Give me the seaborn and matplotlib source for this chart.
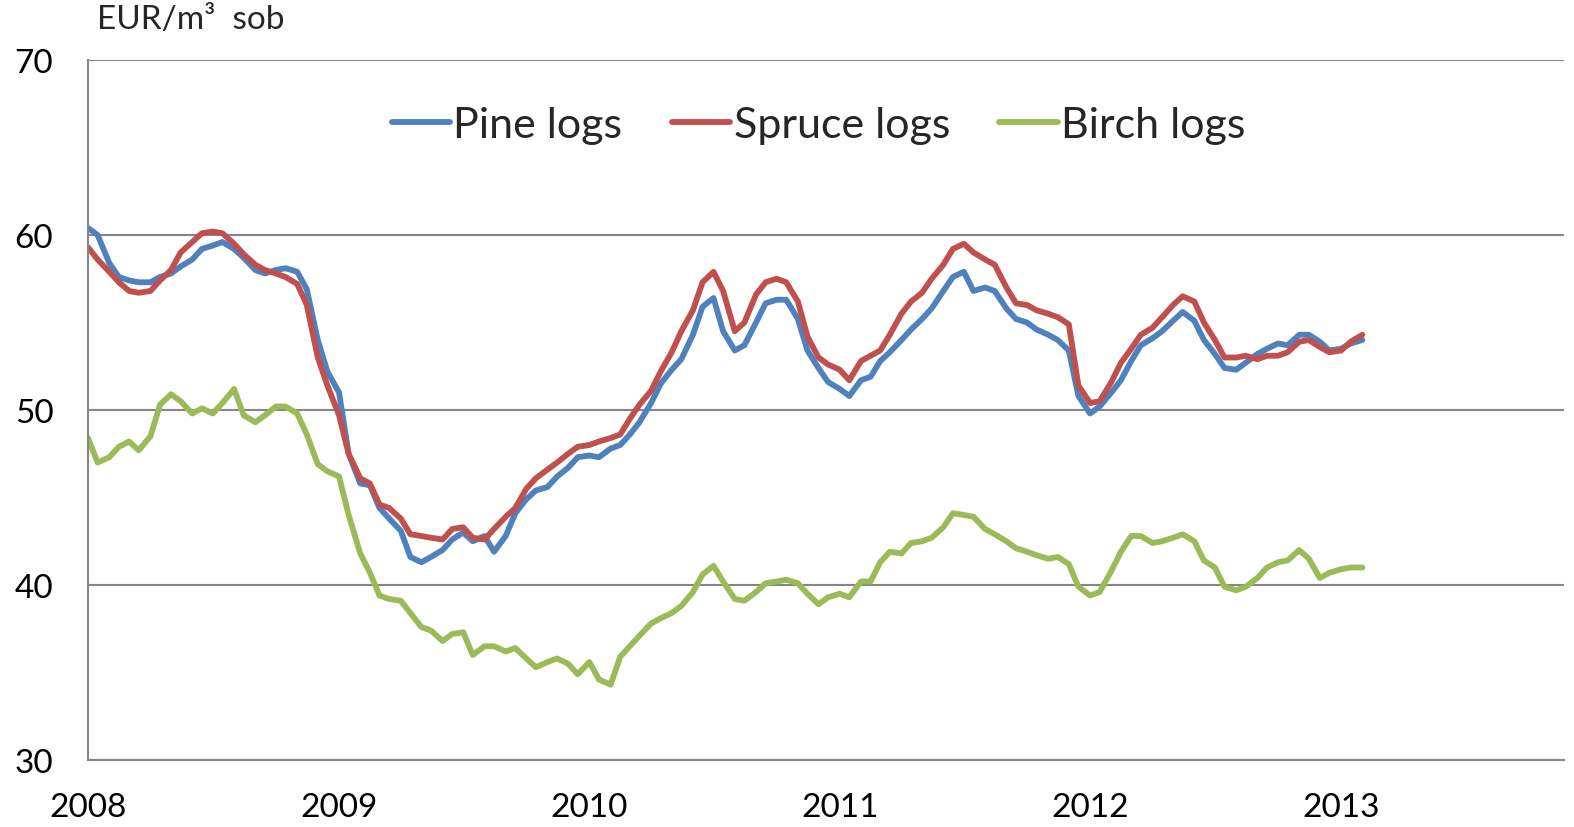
import pandas as pd
import numpy as np
import matplotlib
matplotlib.use('Agg')
import matplotlib.pyplot as plt
import seaborn as sns

# semi-monthly readings, 2008-01-01 .. 2013-02-01
dates = pd.date_range('2008-01-01', '2013-02-01', freq='SMS')

pine = [
  60.4, 60.0, 58.4, 57.6, 57.4, 57.3, 57.3, 57.6, 57.8, 58.2, 58.6, 59.2,
  59.4, 59.6, 59.2, 58.7, 58.0, 57.8, 58.0, 58.1, 57.9, 56.9, 54.0, 52.2,
  51.0, 47.5, 45.8, 45.7, 44.4, 43.8, 43.1, 41.6, 41.3, 41.6, 42.0, 42.6,
  43.0, 42.5, 42.8, 41.9, 42.8, 44.1, 44.9, 45.4, 45.6, 46.2, 46.7, 47.3,
  47.4, 47.3, 47.8, 48.0, 48.6, 49.3, 50.4, 51.5, 52.3, 52.9, 54.3, 55.9,
  56.4, 54.5, 53.4, 53.7, 55.0, 56.1, 56.3, 56.3, 55.2, 53.4, 52.4, 51.6,
  51.2, 50.8, 51.7, 51.9, 52.8, 53.3, 54.0, 54.6, 55.2, 55.8, 56.8, 57.6,
  57.9, 56.8, 57.0, 56.8, 55.8, 55.2, 55.0, 54.6, 54.3, 54.0, 53.4, 50.8,
  49.8, 50.2, 51.0, 51.7, 52.8, 53.7, 54.1, 54.5, 55.1, 55.6, 55.1, 54.0,
  53.2, 52.4, 52.3, 52.7, 53.2, 53.5, 53.8, 53.7, 54.3, 54.3, 53.9, 53.4,
  53.5, 53.8, 54.0]

spruce = [
  59.3, 58.6, 57.9, 57.3, 56.8, 56.7, 56.8, 57.4, 58.0, 59.0, 59.6, 60.1,
  60.2, 60.1, 59.5, 58.9, 58.3, 58.0, 57.8, 57.6, 57.2, 56.0, 53.0, 51.4,
  49.7, 47.5, 46.1, 45.8, 44.6, 44.4, 43.8, 42.9, 42.8, 42.7, 42.6, 43.2,
  43.3, 42.7, 42.6, 43.2, 43.9, 44.4, 45.5, 46.1, 46.6, 47.0, 47.5, 47.9,
  48.0, 48.2, 48.4, 48.6, 49.5, 50.3, 51.1, 52.2, 53.3, 54.5, 55.7, 57.3,
  57.9, 56.8, 54.5, 55.0, 56.6, 57.3, 57.5, 57.3, 56.2, 54.2, 53.0, 52.6,
  52.3, 51.7, 52.8, 53.1, 53.4, 54.3, 55.5, 56.2, 56.7, 57.5, 58.3, 59.2,
  59.5, 59.0, 58.6, 58.3, 57.0, 56.1, 56.0, 55.7, 55.5, 55.3, 54.9, 51.4,
  50.4, 50.5, 51.6, 52.7, 53.5, 54.3, 54.7, 55.3, 56.0, 56.5, 56.2, 55.0,
  54.0, 53.0, 53.0, 53.1, 52.9, 53.1, 53.1, 53.3, 53.9, 54.0, 53.6, 53.3,
  53.4, 53.9, 54.3]

birch = [
  48.4, 47.0, 47.3, 47.9, 48.2, 47.7, 48.5, 50.3, 50.9, 50.5, 49.8, 50.1,
  49.8, 50.4, 51.2, 49.7, 49.3, 49.7, 50.2, 50.2, 49.8, 48.6, 46.9, 46.5,
  46.2, 44.0, 41.8, 40.7, 39.4, 39.2, 39.1, 38.4, 37.6, 37.4, 36.8, 37.2,
  37.3, 36.0, 36.5, 36.5, 36.2, 36.4, 35.8, 35.3, 35.6, 35.8, 35.5, 34.9,
  35.6, 34.6, 34.3, 35.9, 36.5, 37.1, 37.8, 38.1, 38.4, 38.8, 39.6, 40.6,
  41.1, 40.2, 39.2, 39.1, 39.6, 40.1, 40.2, 40.3, 40.1, 39.5, 38.9, 39.3,
  39.5, 39.3, 40.2, 40.2, 41.3, 41.9, 41.8, 42.4, 42.5, 42.7, 43.3, 44.1,
  44.0, 43.9, 43.2, 42.9, 42.5, 42.1, 41.9, 41.7, 41.5, 41.6, 41.2, 39.9,
  39.4, 39.6, 40.8, 41.9, 42.8, 42.8, 42.4, 42.5, 42.7, 42.9, 42.5, 41.4,
  41.0, 39.9, 39.7, 39.9, 40.4, 41.0, 41.3, 41.4, 42.0, 41.5, 40.4, 40.7,
  40.9, 41.0, 41.0]

series_names = ['Pine logs', 'Spruce logs', 'Birch logs']
colors = ['#4F81BD', '#C0504D', '#9BBB59']
year_ticks = [2008, 2009, 2010, 2011, 2012, 2013]
y_ticks = [30, 40, 50, 60, 70]

df = pd.DataFrame({'date': dates, 'Pine logs': pine,
                   'Spruce logs': spruce, 'Birch logs': birch})
long_df = df.melt(id_vars='date', var_name='series', value_name='price')

sns.set_style('white')
plt.rcParams['font.family'] = ['Lato', 'DejaVu Sans']

fig = plt.figure(figsize=(15.74, 8.28), dpi=100)
ax = fig.add_axes([88/1574, 1 - 761/828, (1564 - 88)/1574, (761 - 61)/828])

sns.lineplot(data=long_df, x='date', y='price', hue='series',
             hue_order=series_names, palette=colors, linewidth=4.2, ax=ax)

ax.set_ylim(30, 70)
ax.set_yticks(y_ticks)
ax.set_xlim(pd.Timestamp('2008-01-01'), pd.Timestamp('2013-11-22'))
ax.set_xticks([pd.Timestamp(f'{y}-01-01') for y in year_ticks])
ax.set_xticklabels([str(y) for y in year_ticks])

ax.grid(axis='y', color='#868686', linewidth=1.5)
ax.grid(axis='x', visible=False)
for s in ['top', 'right']:
  ax.spines[s].set_visible(False)
for s in ['left', 'bottom']:
  ax.spines[s].set_color('#868686')
  ax.spines[s].set_linewidth(1.5)

ax.tick_params(axis='both', which='major', direction='out', length=9,
               width=1.5, color='#868686', labelsize=24, labelcolor='black')
ax.tick_params(axis='x', pad=14)
ax.tick_params(axis='y', pad=16)
ax.set_xlabel('')
ax.set_ylabel('')

fig.text(97/1574, 1 - 5/828, 'EUR/m³  sob', fontsize=24, va='top', ha='left')

handles, labels = ax.get_legend_handles_labels()
ax.legend(handles, labels, loc='upper center', bbox_to_anchor=(0.495, 0.99),
          ncol=3, frameon=False, fontsize=31, handlelength=1.35,
          handletextpad=0.08, columnspacing=1.15)

fig.savefig('out.png', dpi=100)
